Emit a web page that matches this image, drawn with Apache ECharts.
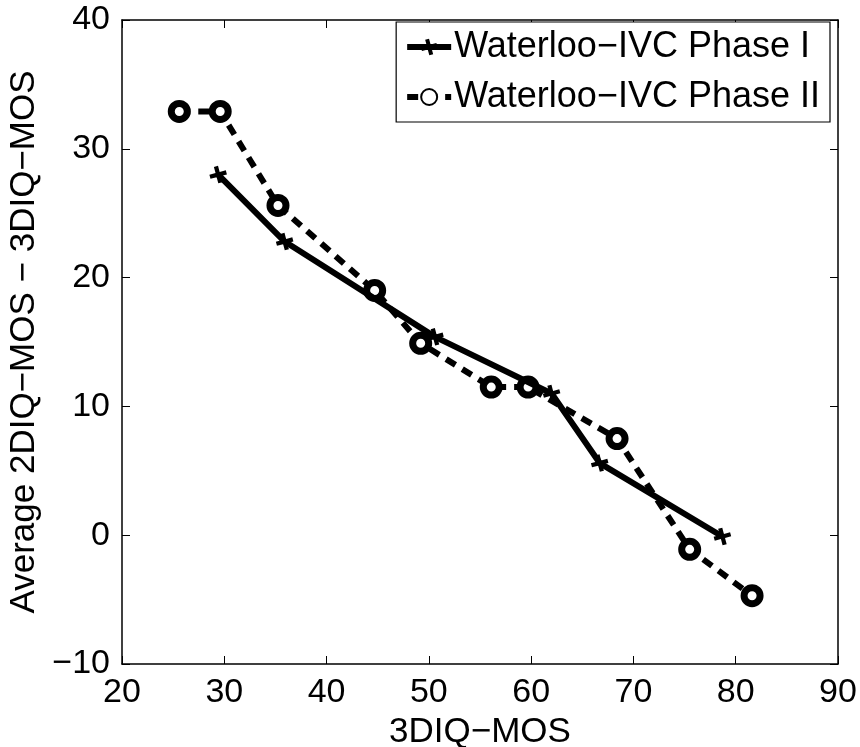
<!DOCTYPE html>
<html><head><meta charset="utf-8">
<script src="https://cdn.jsdelivr.net/npm/echarts@6/dist/echarts.min.js"></script>
<style>html,body{margin:0;padding:0;background:#fff}#c{width:860px;height:747px}</style>
</head><body><div id="c"></div>
<script>
const seriesNames = ['Waterloo\u2212IVC Phase I', 'Waterloo\u2212IVC Phase II'];
const phase1X = [29.4, 35.9, 50.6, 62.0, 66.7, 78.7];
const phase1Y = [28.0, 22.8, 15.4, 11.0, 5.6, -0.1];
const phase2X = [25.6, 29.6, 35.25, 44.7, 49.2, 56.1, 59.7, 68.4, 75.5, 81.6];
const phase2Y = [32.9, 32.9, 25.6, 19.0, 14.9, 11.5, 11.5, 7.5, -1.1, -4.7];
const xTicks = [20, 30, 40, 50, 60, 70, 80, 90];
const yTicks = [-10, 0, 10, 20, 30, 40];
const xTitle = '3DIQ\u2212MOS';
const yTitle = 'Average 2DIQ\u2212MOS \u2212 3DIQ\u2212MOS';

const font = 'Liberation Sans, Arial, Helvetica, sans-serif';
const fmt = v => String(v).replace('-', '\u2212');
const plusPath = 'path://M6,0 L10,0 L10,6 L16,6 L16,10 L10,10 L10,16 L6,16 L6,10 L0,10 L0,6 L6,6 Z';
const pair = (xs, ys) => xs.map((x, i) => [x, ys[i]]);

const chart = echarts.init(document.getElementById('c'), null, {renderer: 'canvas'});
const axisCommon = {
  axisLine: {show: true, onZero: false, lineStyle: {color: '#000', width: 1.5}},
  axisTick: {show: true, inside: true, length: 8, lineStyle: {color: '#000', width: 1}},
  splitLine: {show: false}
};
chart.setOption({
  animation: false,
  backgroundColor: '#fff',
  grid: {left: 122, right: 22, top: 20, bottom: 83, outerBoundsMode: 'none', containLabel: false},
  legend: {
    right: 30, top: 22, orient: 'vertical',
    backgroundColor: '#fff', borderColor: '#000', borderWidth: 1.2,
    padding: [7, 10, 7, 8], itemGap: 14, itemWidth: 44, itemHeight: 20,
    lineStyle: {width: 6},
    textStyle: {fontFamily: font, fontSize: 36, color: '#000', padding: [0,0,0,-2]},
    data: seriesNames
  },
  xAxis: [
    Object.assign({type: 'value', min: 20, max: 90, interval: 10, position: 'bottom',
      name: xTitle, nameLocation: 'middle', nameGap: 46,
      nameTextStyle: {fontFamily: font, fontSize: 35, color: '#000'},
      axisLabel: {fontFamily: font, fontSize: 34, color: '#000', margin: 12, formatter: fmt}}, axisCommon),
    Object.assign({type: 'value', min: 20, max: 90, interval: 10, position: 'top',
      axisLabel: {show: false}}, axisCommon)
  ],
  yAxis: [
    Object.assign({type: 'value', min: -10, max: 40, interval: 10, position: 'left',
      name: yTitle, nameLocation: 'middle', nameGap: 78, nameRotate: 90,
      nameTextStyle: {fontFamily: font, fontSize: 35, color: '#000'},
      axisLabel: {fontFamily: font, fontSize: 34, color: '#000', margin: 12, formatter: fmt}}, axisCommon),
    Object.assign({type: 'value', min: -10, max: 40, interval: 10, position: 'right',
      axisLabel: {show: false}}, axisCommon)
  ],
  series: [
    {
      name: seriesNames[0], type: 'line', data: pair(phase1X, phase1Y),
      symbol: plusPath, symbolSize: 17, symbolRotate: 15, showAllSymbol: true,
      lineStyle: {color: '#000', width: 6},
      itemStyle: {color: '#000', borderWidth: 0},
      z: 3
    },
    {
      name: seriesNames[1], type: 'line', data: pair(phase2X, phase2Y),
      symbol: 'circle', symbolSize: 16, showAllSymbol: true,
      lineStyle: {color: '#000', width: 6, type: [11, 8]},
      itemStyle: {color: '#fff', borderColor: '#000', borderWidth: 7},
      z: 2
    }
  ]
});
</script></body></html>
